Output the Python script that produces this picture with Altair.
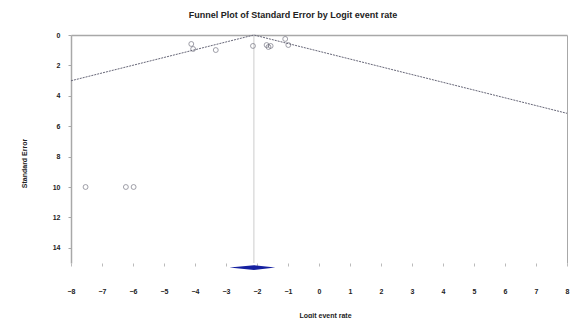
import altair as alt
import pandas as pd

# Study points (logit event rate, standard error)
study_x = [-4.12, -4.06, -3.33, -2.13, -1.69, -1.63, -1.56, -1.09, -0.99, -7.53, -6.23, -5.98]
study_se = [0.59, 0.92, 0.99, 0.72, 0.66, 0.79, 0.72, 0.26, 0.66, 10.0, 10.0, 10.0]

# Summary estimate and CI
summary_est = -2.1
summary_lo = -2.89
summary_hi = -1.41
diamond_se = 15.3
diamond_half = 0.16

x_ticks = list(range(-8, 9))
y_ticks = [0, 2, 4, 6, 8, 10, 12, 14]

pts = pd.DataFrame({"x": study_x, "se": study_se})

# funnel lines: x = est +/- 1.96*se, clipped to the x range
left_end_se = (summary_est - (-8)) / 1.96
right_end_se = (8 - summary_est) / 1.96
funnel = pd.DataFrame({
    "x": [-8, summary_est, 8],
    "se": [left_end_se, 0, right_end_se],
})
vline = pd.DataFrame({"x": [summary_est], "y0": [0], "y1": [15]})
diamond = pd.DataFrame({
    "x": [summary_lo, summary_est, summary_hi],
    "y": [diamond_se, diamond_se - diamond_half, diamond_se],
    "y2": [diamond_se, diamond_se + diamond_half, diamond_se],
})

FONT = "Liberation Sans"
xscale = alt.Scale(domain=[-8, 8], nice=False, zero=False)
yscale = alt.Scale(domain=[0, 15], reverse=True, nice=False, zero=False)

xaxis = alt.Axis(values=x_ticks, grid=False, domain=False, tickSize=3, tickColor="#bbbbbb",
                 labelPadding=21, labelFontSize=7, labelFontWeight="bold", labelColor="#222222",
                 labelFont=FONT, labelFlush=False, labelOverlap=False,
                 title="Logit event rate", titleFontSize=7, titleFont=FONT,
                 titleFontWeight="bold", titleColor="#222222", titlePadding=17, titleX=254)
yaxis = alt.Axis(values=y_ticks, grid=False, domainColor="#a8a8a8", domainWidth=1.5,
                 tickSize=3, tickColor="#a8a8a8", labelPadding=8, labelFontSize=7,
                 labelFontWeight="bold", labelColor="#222222", labelFont=FONT, labelFlush=False,
                 title="Standard Error", titleFontSize=7, titleFont=FONT,
                 titleFontWeight="bold", titleColor="#222222", titlePadding=25, titleY=128)

funnel_layer = alt.Chart(funnel).mark_line(color="#666677", strokeWidth=1, strokeDash=[2, 1]).encode(
    x=alt.X("x:Q", scale=xscale, axis=xaxis),
    y=alt.Y("se:Q", scale=yscale, axis=yaxis),
)

vline_layer = alt.Chart(vline).mark_rule(color="#cccccc", strokeWidth=1).encode(
    x=alt.X("x:Q", scale=xscale, axis=alt.Axis(orient="top", labels=False, ticks=False, grid=False,
                                               domainColor="#a8a8a8", domainWidth=1.5, title=None)),
    y=alt.Y("y0:Q", scale=yscale, axis=alt.Axis(orient="right", labels=False, ticks=False, grid=False,
                                                domainColor="#a8a8a8", domainWidth=1, title=None)),
    y2="y1:Q",
)

pts_layer = alt.Chart(pts).mark_point(shape="circle", filled=False, color="#555566",
                                      size=24, strokeWidth=0.8).encode(
    x=alt.X("x:Q", scale=xscale, axis=None),
    y=alt.Y("se:Q", scale=yscale, axis=None),
)

diamond_layer = alt.Chart(diamond).mark_area(color="#1520a0", clip=False).encode(
    x=alt.X("x:Q", scale=xscale, axis=None),
    y=alt.Y("y:Q", scale=yscale, axis=None),
    y2="y2:Q",
)

chart = alt.layer(vline_layer, funnel_layer, pts_layer, diamond_layer).resolve_axis(
    x="independent", y="independent"
).properties(
    width=496,
    height=228,
    title=alt.TitleParams("Funnel Plot of Standard Error by Logit event rate", fontSize=9,
                          font=FONT, fontWeight="bold", color="#222222", anchor="middle",
                          dx=-26, offset=11),
    autosize=alt.AutoSizeParams(type="none"),
    padding={"left": 63, "top": 27, "right": 4, "bottom": 55},
).configure_view(stroke=None)

chart.save("out.html", embed_options={"renderer": "svg", "actions": False})
